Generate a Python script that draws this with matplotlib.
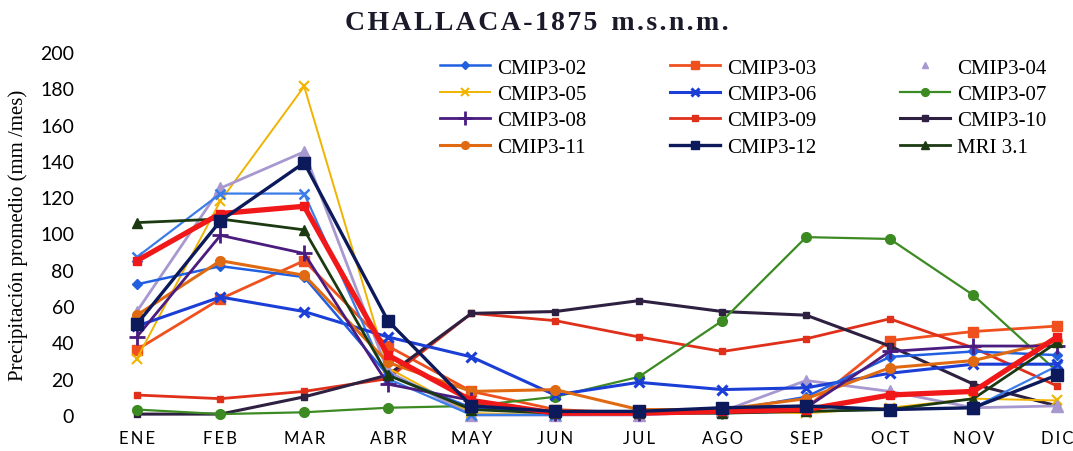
import numpy as np
import matplotlib.pyplot as plt
from matplotlib.lines import Line2D

meses = ["ENE", "FEB", "MAR", "ABR", "MAY", "JUN", "JUL", "AGO", "SEP", "OCT", "NOV", "DIC"]

# precipitacion promedio mensual (mm/mes) por modelo
cmip02 = [72, 82, 76, 22, 4, 1, 1, 2, 10, 32, 35, 33]
cmip03 = [36, 64, 85, 38, 13, 3, 1, 2, 4, 41, 46, 49]
cmip04 = [57, 125, 145, 24, 0, 0, 0, 2, 19, 13, 4, 5]
cmip05 = [31, 118, 181, 26, 1, 0, 2, 2, 1, 4, 9, 8]
cmip06 = [49, 65, 57, 43, 32, 11, 18, 14, 15, 23, 28, 28]
cmip07 = [3, 0.5, 1.5, 4, 5, 10, 21, 52, 98, 97, 66, 24]
cmip08 = [43, 99, 89, 17, 8, 1, 1, 2, 4, 35, 38, 38]
cmip09 = [11, 9, 13, 20, 56, 52, 43, 35, 42, 53, 37, 16]
cmip10 = [0.5, 0.5, 10, 22, 56, 57, 63, 57, 55, 38, 17, 5]
cmip11 = [55, 85, 77, 29, 13, 14, 3, 3, 9, 26, 30, 41]
cmip12 = [50, 107, 139, 52, 5, 2, 2, 4, 5, 3, 4, 22]
mri31 = [106, 108, 102, 22, 3, 1, 1, 1, 2, 3, 9, 40]
# series sin entrada en la leyenda
extra_rojo = [85, 111, 115, 33, 8, 1, 1, 2, 3, 11, 13, 43]
extra_celeste = [87, 122, 122, 20, 0, 0, 1, 1, 2, 3, 4, 27]

x = np.arange(len(meses))

fig = plt.figure(figsize=(10.73, 4.52), dpi=100)
ax = fig.add_axes([95 / 1073, 36 / 452, (1073 - 95) / 1073, 363 / 452])

def serie(vals, color, marker, lw=2, ms=6, label=None, mew=1, z=2):
    ln, = ax.plot(x, vals, color=color, marker=marker, lw=lw, ms=ms, mew=mew,
                  label=label, clip_on=False, zorder=z)
    return ln

h = {}
h["03"] = serie(cmip03, "#f0501e", "s", ms=7, label="CMIP3-03")
h["09"] = serie(cmip09, "#e0301a", "s", ms=5, label="CMIP3-09")
h["10"] = serie(cmip10, "#2e2040", "s", ms=5, label="CMIP3-10", lw=2.2)
h["07"] = serie(cmip07, "#3c8a22", "o", ms=7, label="CMIP3-07", lw=1.6)
h["05"] = serie(cmip05, "#f0b400", "x", ms=7, label="CMIP3-05", lw=1.4, mew=1.5)
h["04"] = serie(cmip04, "#a898d0", "^", ms=9, label="CMIP3-04", lw=2)
serie(extra_celeste, "#3a7ce8", "x", ms=7, lw=1.6, mew=1.8)
h["06"] = serie(cmip06, "#1a3ed6", "x", ms=7, label="CMIP3-06", lw=2.2, mew=2.2)
h["02"] = serie(cmip02, "#2060e0", "D", ms=5, label="CMIP3-02", lw=1.8)
h["11"] = serie(cmip11, "#e06a12", "o", ms=7, label="CMIP3-11", lw=2.2)
h["08"] = serie(cmip08, "#4a1c80", "+", ms=12, label="CMIP3-08", lw=2, mew=2)
h["mri"] = serie(mri31, "#1c3a12", "^", ms=7, label="MRI 3.1", lw=2)
serie(extra_rojo, "#f01818", "s", ms=6, lw=3.8, z=3)
h["12"] = serie(cmip12, "#0c1a5c", "s", ms=8, label="CMIP3-12", lw=2.4, z=3)

ax.set_xlim(-0.5, 11.19)
ax.set_ylim(0, 200)
ax.set_xticks(x)
ax.set_xticklabels(["\u2009".join(m) for m in meses],
                   family=["Lato", "DejaVu Sans"], fontsize=12)
ax.set_yticks(np.arange(0, 201, 20))
ax.set_yticklabels([str(v) for v in range(0, 201, 20)], family="Lato", fontsize=14)
ax.tick_params(axis="both", length=0)
ax.tick_params(axis="x", pad=11)
ax.tick_params(axis="y", pad=15)
for s in ax.spines.values():
    s.set_visible(False)

fig.text(18 / 1073, 0.48, "Precipitación promedio (mm /mes)", rotation=90,
         ha="center", va="center", family="Liberation Serif", fontsize=15)
fig.text(0.5, 1 - 23 / 452, "\u200a".join("CHALLACA-1875") + "  " + "\u200a".join("m.s.n.m."),
         ha="center", va="center", color="#1a1a2a",
         family=["Liberation Serif", "DejaVu Serif"], fontweight="bold", fontsize=20)

# la leyenda se llena por columnas
h04_ley = Line2D([], [], ls="none", marker="^", color="#a898d0", ms=6)
orden = [h["02"], h["05"], h["08"], h["11"],
         h["03"], h["06"], h["09"], h["12"],
         h04_ley, h["07"], h["10"], h["mri"]]
etiquetas = ["CMIP3-02", "CMIP3-05", "CMIP3-08", "CMIP3-11",
             "CMIP3-03", "CMIP3-06", "CMIP3-09", "CMIP3-12",
             "CMIP3-04", "CMIP3-07", "CMIP3-10", "MRI 3.1"]
ley = fig.legend(orden, etiquetas, ncol=3, loc="upper left",
                 bbox_to_anchor=(440 / 1073, 1 - 59 / 452),
                 frameon=False, prop={"family": "Liberation Serif", "size": 15},
                 handlelength=2.4, handletextpad=0.35, columnspacing=4.0,
                 labelspacing=0.33, borderpad=0, borderaxespad=0, markerscale=0.8)

fig.savefig("out.png", dpi=100)
